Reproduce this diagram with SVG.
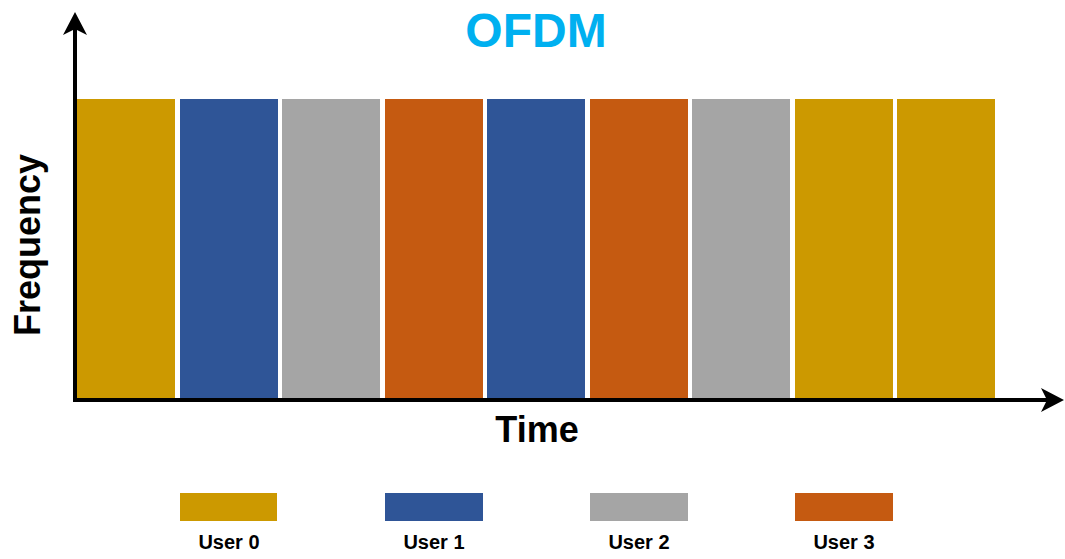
<svg xmlns="http://www.w3.org/2000/svg" width="1065" height="559" viewBox="0 0 1065 559">
<style>
.u0{fill:#CC9900}.u1{fill:#2F5597}.u2{fill:#A5A5A5}.u3{fill:#C55A11}
text{font-family:"Liberation Sans",Arial,sans-serif;font-weight:bold;fill:#000}
.lg{font-size:20px;text-anchor:middle}
</style>
<rect width="1065" height="559" fill="#fff"/>
<text x="536" y="47" font-size="48" text-anchor="middle" style="fill:#00B0F0">OFDM</text>
<g id="slots">
<rect id="s1" class="u0" x="77" y="99" width="98" height="299"/>
<rect id="s2" class="u1" x="180" y="99" width="98" height="299"/>
<rect id="s3" class="u2" x="282" y="99" width="98" height="299"/>
<rect id="s4" class="u3" x="385" y="99" width="98" height="299"/>
<rect id="s5" class="u1" x="487" y="99" width="98" height="299"/>
<rect id="s6" class="u3" x="590" y="99" width="98" height="299"/>
<rect id="s7" class="u2" x="692" y="99" width="98" height="299"/>
<rect id="s8" class="u0" x="795" y="99" width="98" height="299"/>
<rect id="s9" class="u0" x="897" y="99" width="98" height="299"/>
</g>
<g id="axes">
<line x1="75" y1="402" x2="75" y2="20" stroke="#000" stroke-width="4"/>
<path d="M75 12 L87 35 L75 29 L63 35 Z" fill="#000"/>
<line x1="73" y1="400" x2="1056" y2="400" stroke="#000" stroke-width="4"/>
<path d="M1064 400 L1041 412 L1047 400 L1041 388 Z" fill="#000"/>
</g>
<text x="537" y="442" font-size="36" text-anchor="middle">Time</text>
<text transform="translate(40,245) rotate(-90)" font-size="36" text-anchor="middle">Frequency</text>
<g id="legend">
<g id="l0"><rect class="u0" x="180" y="493" width="97" height="28"/><text class="lg" x="229" y="549">User 0</text></g>
<g id="l1"><rect class="u1" x="385" y="493" width="98" height="28"/><text class="lg" x="434" y="549">User 1</text></g>
<g id="l2"><rect class="u2" x="590" y="493" width="98" height="28"/><text class="lg" x="639" y="549">User 2</text></g>
<g id="l3"><rect class="u3" x="795" y="493" width="98" height="28"/><text class="lg" x="844" y="549">User 3</text></g>
</g>
</svg>
